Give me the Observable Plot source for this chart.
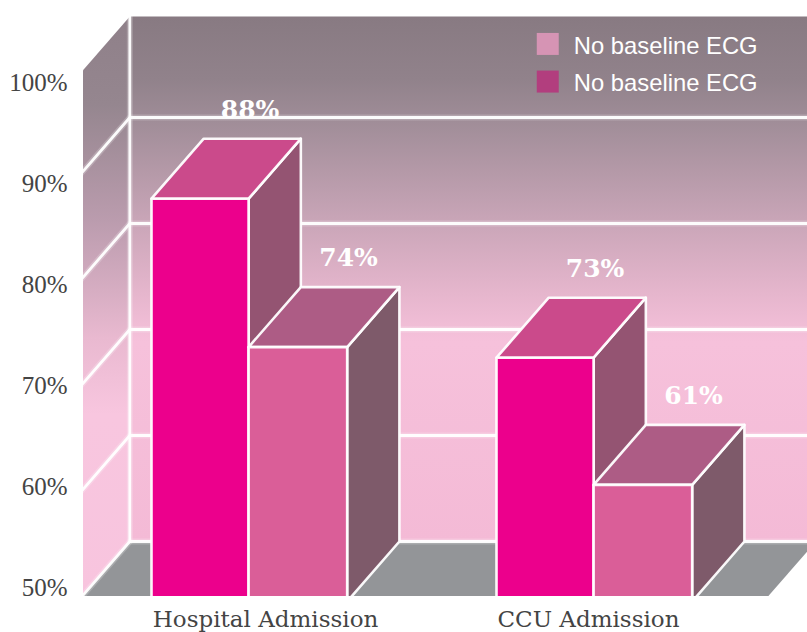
<!DOCTYPE html>
<html>
<head>
<meta charset="utf-8">
<script src="https://cdn.jsdelivr.net/npm/d3@7"></script>
<script src="https://cdn.jsdelivr.net/npm/@observablehq/plot@0.6"></script>
<style>
html,body{margin:0;padding:0;background:#fff}
svg{display:block}
</style>
</head>
<body>
<div id="chart"></div>
<script>
const categories = ["Hospital Admission", "CCU Admission"];
const seriesA = [88, 73];
const seriesB = [74, 61];
const seriesNames = ["No baseline ECG", "No baseline ECG"];
const yTicks = [50, 60, 70, 80, 90, 100];
const wallLevels = [50, 60, 70, 80, 90];

const C = {
  frontA:"#ec008c", topA:"#cb4a8b", sideA:"#945472",
  frontB:"#da5e98", topB:"#ad5c85", sideB:"#7e5a6a",
  floor:"#939598", swatchA:"#d694b4", swatchB:"#b23e7e"
};

// x in bar widths, y in percent; depth is the receding shift of the 3D box
const groupStart = [0, 3.5];
const widthA = 0.985, widthB = 1.0;
const depthX = 0.53, depthY = 5.66, base = 50, wallTop = 99.53;
const wallX = -0.22, wallLeft = wallX - depthX, floorRight = 6.21;

function box(x, w, v, fills) {
  const x0 = x, x1 = x + w;
  const t = v + depthY, b = base + depthY, X = depthX;
  return [
    {fill: fills[2], pts: [[x1,v],[x1+X,t],[x1+X,b],[x1,base]]},
    {fill: fills[1], pts: [[x0,v],[x0+X,t],[x1+X,t],[x1,v]]},
    {fill: fills[0], pts: [[x0,base],[x0,v],[x1,v],[x1,base]]}
  ];
}
const faces = [];
categories.forEach((c, i) => {
  faces.push(...box(groupStart[i], widthA, seriesA[i], [C.frontA, C.topA, C.sideA]));
  faces.push(...box(groupStart[i] + widthA, widthB, seriesB[i], [C.frontB, C.topB, C.sideB]));
});
const toXY = pts => pts.map(p => ({x:p[0], y:p[1]}));
const face = f => Plot.line(toXY(f.pts), {
  x:"x", y:"y", curve:"linear-closed", fill:f.fill, stroke:"#fff", strokeWidth:2.6,
  strokeOpacity:0.95, strokeLinejoin:"round", clip:"frame"
});
const poly = (pts, fill) => Plot.line(toXY(pts), {
  x:"x", y:"y", curve:"linear-closed", fill, stroke:"none", clip:"frame"
});
const seg = (pts) => [
  Plot.line(toXY(pts), {x:"x", y:"y", stroke:"#fff", strokeWidth:6, strokeOpacity:0.22, clip:"frame"}),
  Plot.line(toXY(pts), {x:"x", y:"y", stroke:"#fff", strokeWidth:2.8, strokeOpacity:0.95, clip:"frame"})
];

function gradients() {
  const defs = d3.create("svg:defs");
  const mk = (id, stops) => {
    const g = defs.append("linearGradient").attr("id", id)
      .attr("x1",0).attr("x2",0).attr("y1",0).attr("y2",1);
    stops.forEach(([o,c]) => g.append("stop").attr("offset",o).attr("stop-color",c));
  };
  mk("backWall", [[0,"#887a82"],[0.12,"#91828b"],[0.2,"#a08d98"],[0.38,"#c7a4b6"],[0.53,"#e6b6cd"],[0.62,"#f6c1db"],[1,"#f4bad6"]]);
  mk("sideWall", [[0,"#8f8089"],[0.15,"#95868f"],[0.35,"#bb9cae"],[0.55,"#e9b9d0"],[0.68,"#f8c6df"],[1,"#f8c4de"]]);
  return defs.node();
}

const tickPos = d3.scaleLinear([50, 100], [51.32, 98.96]);
const legendY = [102.6, 99.05];
const legendX = 4.02;

const chart = Plot.plot({
  width: 807, height: 632,
  marginLeft: 83, marginRight: 0, marginTop: 16, marginBottom: 36,
  x: {domain: [0, 3.5], range: [151, 496], axis: null},
  y: {domain: [50, 100], range: [601, 71], axis: null},
  style: {background: "#fff"},
  marks: [
    gradients,
    poly([[wallX,base+depthY],[wallX,wallTop+depthY],[floorRight+depthX,wallTop+depthY],[floorRight+depthX,base+depthY]], "url(#backWall)"),
    poly([[wallX,base+depthY],[wallX,wallTop+depthY],[wallLeft,wallTop],[wallLeft,base]], "url(#sideWall)"),
    poly([[wallX,base+depthY],[floorRight+depthX,base+depthY],[floorRight,base],[wallLeft,base]], C.floor),
    ...wallLevels.flatMap(v => seg([[wallLeft,v],[wallX,v+depthY],[floorRight+depthX,v+depthY]])),
    ...seg([[wallX,base+depthY],[wallX,wallTop+depthY]]),
    ...faces.map(face),
    // value labels
    Plot.text([...seriesA.map((v,i)=>({v,x:groupStart[i]+0.5})), ...seriesB.map((v,i)=>({v,x:groupStart[i]+1.5}))], {
      x: d => d.x + depthX, y: d => d.v + depthY, text: d => d.v + "%",
      dx: -3, dy: -29, fill: "#fff", fontFamily: "DejaVu Serif", fontWeight: "bold", fontSize: 25, textAnchor: "middle"
    }),
    // value axis
    Plot.text(yTicks, {
      y: d => tickPos(d), text: d => d + "%", frameAnchor: "left", dx: -16, textAnchor: "end",
      fill: "#444", fontFamily: "Liberation Serif", fontSize: 25
    }),
    // category axis
    Plot.text(categories, {
      x: (d,i) => groupStart[i] + [1.157, 0.933][i], text: d => d, frameAnchor: "bottom", dy: 30,
      fill: "#444", fontFamily: "DejaVu Serif", fontSize: 23, textAnchor: "middle"
    }),
    // legend
    Plot.dot(seriesNames, {x: legendX, y: (d,i)=>legendY[i], symbol:"square", r:12.4, stroke:"none",
      fill: (d,i)=>[C.swatchA, C.swatchB][i]}),
    Plot.text(seriesNames, {x: legendX, y: (d,i)=>legendY[i], dx: 26, dy: 2, text: d=>d, textAnchor:"start",
      fill:"#fff", fontFamily:"Liberation Sans", fontSize: 23.8})
  ]
});
document.getElementById("chart").append(chart);
</script>
</body>
</html>
